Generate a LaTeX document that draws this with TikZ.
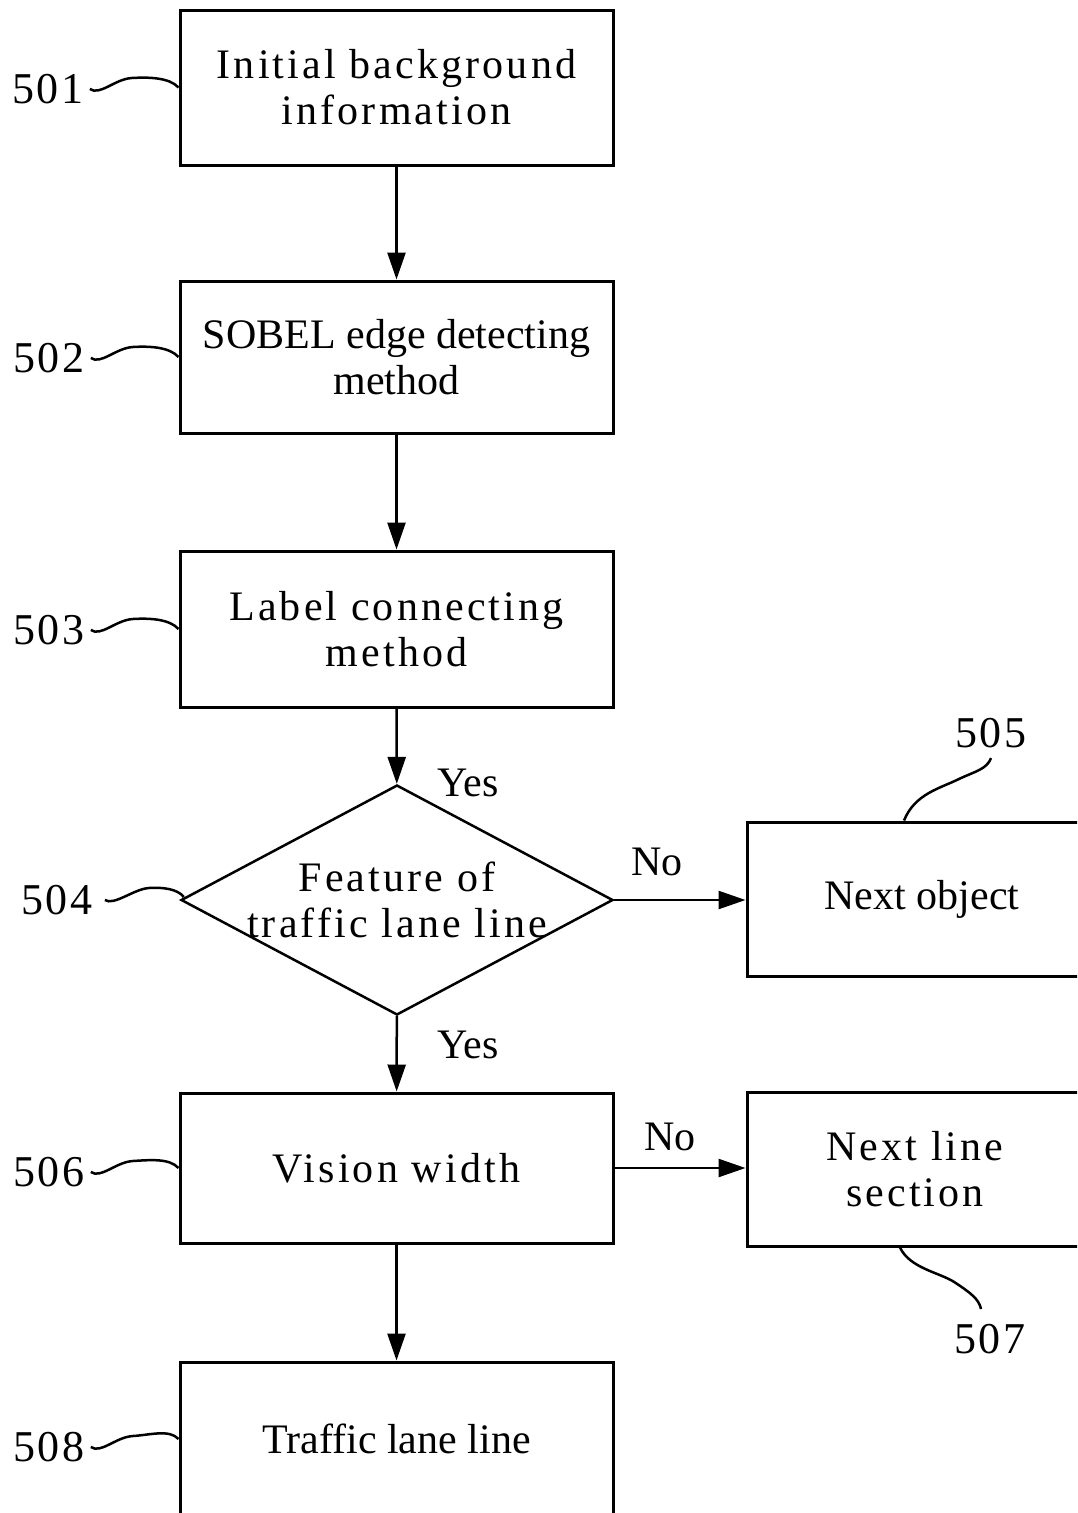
\documentclass[tikz,border=0pt]{standalone}
\usepackage{fontspec}
\setmainfont{Liberation Serif}
\newfontfamily\widefont[LetterSpace=7.5]{Liberation Serif}
\newfontfamily\numfont[LetterSpace=6]{Liberation Serif}
\usetikzlibrary{arrows.meta,shapes.geometric}
\newcommand\fsz{\fontsize{42}{46}\selectfont}
\newcommand\nsz{\fontsize{44}{46}\selectfont}
\begin{document}
\begin{tikzpicture}[x=1pt,y=-1pt,
  box/.style={draw,line width=3pt,minimum width=433pt,inner sep=0pt,align=center,font=\fsz},
  widebox/.style={box,font=\fsz\widefont},
  numlabel/.style={inner sep=0pt,font=\nsz\numfont},
  plain/.style={inner sep=0pt,font=\fsz},
  arr/.style={line width=2.5pt,-{Triangle[length=27pt,width=18pt]}},
  lead/.style={line width=2.5pt}]
\useasboundingbox (0,0) rectangle (1077,1513);
\clip (0,0) rectangle (1077,1513);
% boxes
\node[widebox,minimum height=155pt] (b501) at (396.5,87.5) {Initial background\\information};
\node[box,minimum height=152pt] (b502) at (396.5,357) {SOBEL edge detecting\\method};
\node[widebox,minimum height=156pt] (b503) at (396.5,629) {Label connecting\\method};
\node[diamond,draw,line width=2.5pt,minimum width=432pt,minimum height=230pt,inner sep=0pt] (d504) at (397,900) {};
\node[inner sep=0pt,align=center,font=\fsz\widefont] (t504) at (d504.center) {Feature of\\traffic lane line};
\node[box,minimum width=350pt,minimum height=154pt] (b505) at (922,899) {Next object};
\node[widebox,minimum height=150pt] (b506) at (396.5,1168) {Vision width};
\node[widebox,minimum width=336pt,minimum height=154pt] (b507) at (915,1169) {Next line\\section};
\node[box,minimum height=154pt] (b508) at (396.5,1439) {Traffic lane line};
% reference numerals
\node[numlabel] (l501) at (48,89) {501};
\node[numlabel] (l502) at (49,358) {502};
\node[numlabel] (l503) at (49,630) {503};
\node[numlabel] (l504) at (57,900) {504};
\node[numlabel] (l505) at (991,733) {505};
\node[numlabel] (l506) at (49,1172) {506};
\node[numlabel] (l507) at (990,1339) {507};
\node[numlabel] (l508) at (49,1447) {508};
% yes / no
\node[plain] (y1) at (468,783) {Yes};
\node[plain] (y2) at (468,1045) {Yes};
\node[plain] (n1) at (657,862) {No};
\node[plain] (n2) at (670,1137) {No};
% arrows
\draw[arr] (b501) -- (b502);
\draw[arr] (b502) -- (b503);
\draw[arr] (b503) -- (d504);
\draw[arr] (d504.east) -- (d504.east -| b505.west);
\draw[arr] (d504) -- (b506);
\draw[arr] (b506.east) -- (b506.east -| b507.west);
\draw[arr] (b506) -- (b508);
% leader squiggles
\foreach \n in {501,502,503,506,508}{
  \draw[lead] ([xshift=6pt]l\n.east) .. controls +(10,7) and +(-17,1) .. ++(42,-11)
     .. controls +(17,-1) and +(-9,-10) .. (b\n.west);
}
\draw[lead] ([xshift=12pt]l504.east) .. controls +(9,6) and +(-15,1) .. ++(44,-12)
     .. controls +(14,-1) and +(-6,-8) .. ([xshift=4pt,yshift=3pt]d504.west);
\draw[lead] ([xshift=-18pt]b505.north) .. controls +(11,-27) and +(-20,10) .. ++(56,-42)
     .. controls +(15,-7) and +(-4,11) .. ([yshift=-10pt]l505.south);
\draw[lead] ([xshift=-15pt]b507.south) .. controls +(10,21) and +(-15,-10) .. ++(55,35)
     .. controls +(15,10) and +(-2,-10) .. ([xshift=-9pt,yshift=15pt]l507.north);
\end{tikzpicture}
\end{document}
